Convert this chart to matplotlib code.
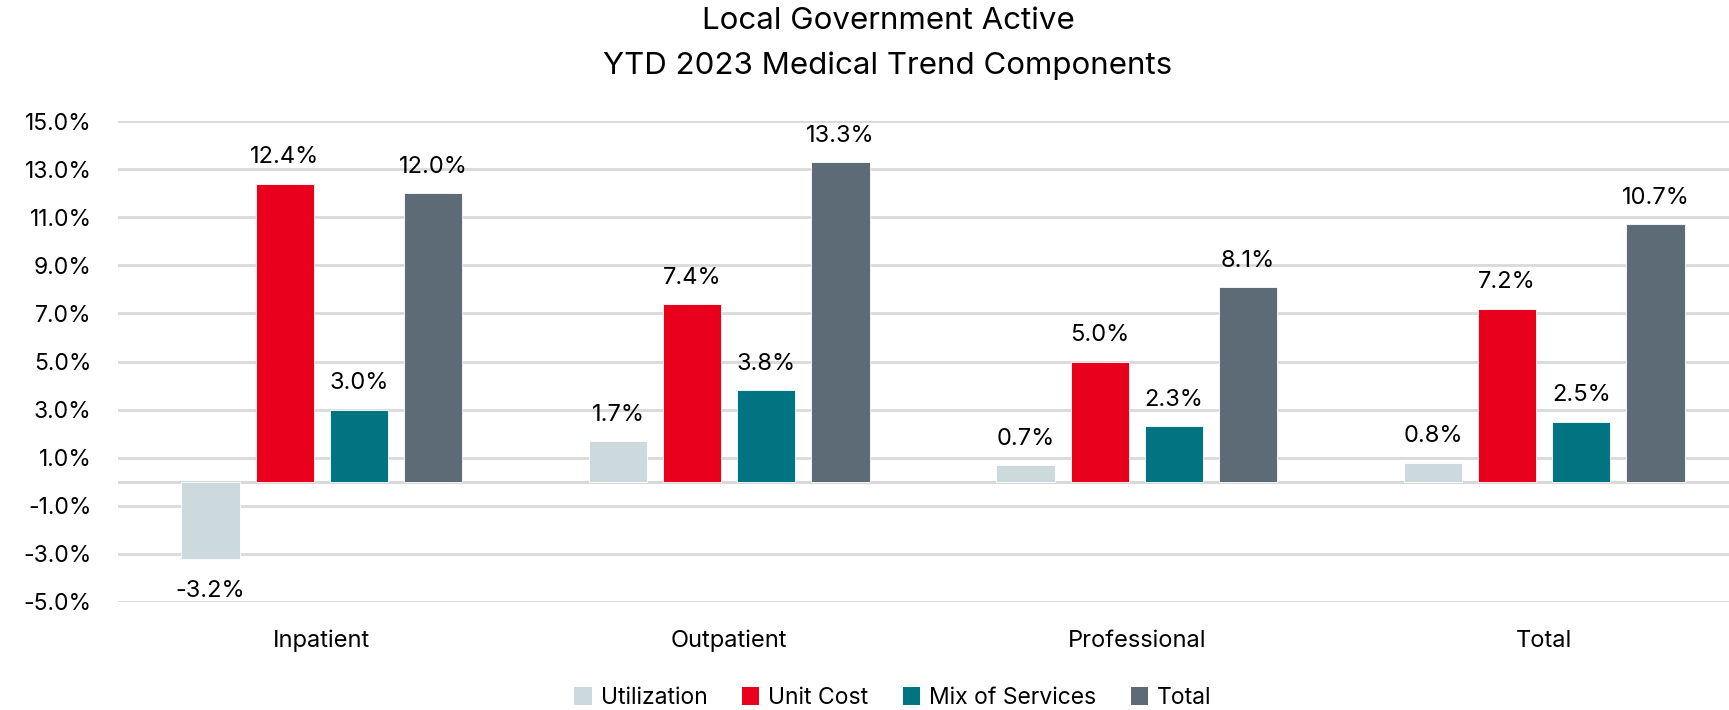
import matplotlib
matplotlib.use("Agg")
import matplotlib.pyplot as plt
import numpy as np
from matplotlib.patches import Patch

categories = ["Inpatient", "Outpatient", "Professional", "Total"]
series_names = ["Utilization", "Unit Cost", "Mix of Services", "Total"]
utilization = [-3.2, 1.7, 0.7, 0.8]
unit_cost = [12.4, 7.4, 5.0, 7.2]
mix_of_services = [3.0, 3.8, 2.3, 2.5]
total = [12.0, 13.3, 8.1, 10.7]
yticks = [-5, -3, -1, 1, 3, 5, 7, 9, 11, 13, 15]

colors = ["#CDDADD", "#E9001C", "#007480", "#5D6B76"]
series = [utilization, unit_cost, mix_of_services, total]

plt.rcParams['font.family'] = ['Inter', 'DejaVu Sans']

W, H = 1729, 710
fig = plt.figure(figsize=(W / 100, H / 100), dpi=100)
left_px, right_px, top_px, bot_px = 118, 1748, 121, 602
ax = fig.add_axes([left_px / W, 1 - bot_px / H, (right_px - left_px) / W, (bot_px - top_px) / H])

x = np.arange(len(categories))
bw = 0.1425
pitch = 0.182
offsets = [-1.5 * pitch, -0.5 * pitch, 0.5 * pitch, 1.5 * pitch]

ax.set_xlim(-0.5, len(categories) - 0.5)
ax.set_ylim(-5, 15)
ax.set_yticks(yticks)
ax.set_yticklabels([f"{v:.1f}%" for v in yticks], fontsize=16.5)
ax.yaxis.grid(True, color="#D9D9D9", linewidth=2)
ax.set_axisbelow(True)
ax.axhline(0, color="#D9D9D9", linewidth=2.2, zorder=1)
ax.tick_params(axis='y', length=0, pad=19)
ax.tick_params(axis='x', length=0, pad=20)
ax.set_xticks(x)
ax.set_xticklabels(categories, fontsize=17)
for s in ax.spines.values():
    s.set_visible(False)

for vals, off, col in zip(series, offsets, colors):
    ax.bar(x + off, vals, width=bw, color=col, edgecolor="white", linewidth=0.6, zorder=2)
    for xi, v in zip(x + off, vals):
        if v >= 0:
            ax.annotate(f"{v:.1f}%", (xi, v), xytext=(0, 11), textcoords='offset points',
                        ha='center', va='bottom', fontsize=17)
        else:
            ax.annotate(f"{v:.1f}%", (xi, v), xytext=(0, -15), textcoords='offset points',
                        ha='center', va='top', fontsize=17)

title_x = 888 / W
fig.text(title_x, 1 - 21 / H, "Local Government Active", ha='center', va='center', fontsize=22.5)
fig.text(title_x, 1 - 66 / H, "YTD 2023 Medical Trend Components", ha='center', va='center', fontsize=22.5)

handles = [Patch(facecolor=c, edgecolor='none') for c in colors]
fig.legend(handles, series_names, loc='center', bbox_to_anchor=(893 / W, 1 - 698 / H), ncol=4,
           frameon=False, fontsize=16.5, handlelength=0.75, handleheight=0.8, handletextpad=0.4,
           columnspacing=1.5, borderpad=0, borderaxespad=0)

fig.savefig("out.png", dpi=100)
